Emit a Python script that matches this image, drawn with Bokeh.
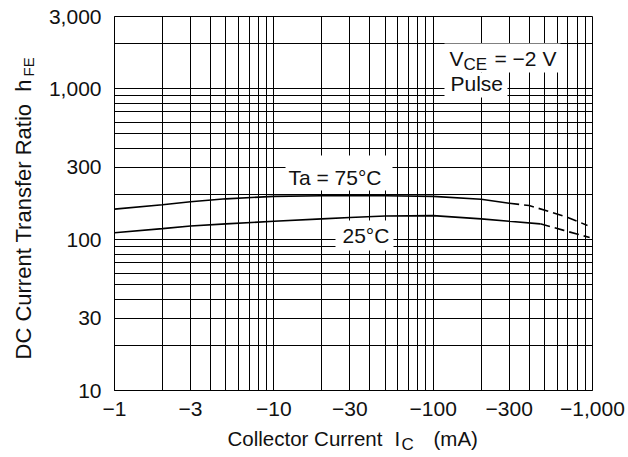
import math
from bokeh.plotting import figure
from bokeh.layouts import row, column
from bokeh.models import FixedTicker, Label, Range1d, BoxAnnotation
from bokeh.embed import file_html
from bokeh.resources import INLINE

FONT = "Liberation Sans"
INK = "#111111"
NB = "\u00a0"

# ---- data ----
x_ticks = [1, 3, 10, 30, 100, 300, 1000]
x_tick_labels = ["−1", "−3", "−10", "−30", "−100", "−300", "−1,000"]
y_ticks = [10, 30, 100, 300, 1000, 3000]
y_tick_labels = ["10", "30", "100", "300", "1,000", "3,000"]

grid_x = [1, 2, 3, 4, 5, 6, 7, 8, 9, 10, 20, 30, 40, 50, 60, 70, 80, 90,
          100, 200, 300, 400, 500, 600, 700, 800, 900, 1000]
grid_y = [10, 20, 30, 40, 50, 60, 70, 80, 90, 100, 200, 300, 400, 500, 600,
          700, 800, 900, 1000, 2000, 3000]

ic_75_solid = [1, 2, 3, 5, 10, 20, 50, 100, 200, 300]
hfe_75_solid = [159, 170, 178, 186, 193, 195, 195, 193, 185, 174]
ic_75_dash = [300, 400, 560, 700, 930]
hfe_75_dash = [174, 168, 151, 140, 124]

ic_25_solid = [1, 2, 3, 5, 10, 20, 30, 50, 100, 200, 300, 470]
hfe_25_solid = [111, 118, 123, 127, 132, 137, 140, 143, 144, 137, 132, 127]
ic_25_dash = [470, 660, 960]
hfe_25_dash = [127, 115, 103]

# ---- layout geometry (page px) ----
YW = 40            # width of the strip holding the y title
MAIN_W = 628 - YW  # main figure width
MAIN_H = 426       # main figure height
XH = 457 - MAIN_H  # height of the strip holding the x title
FL, FT, FR, FB = 114, 16, 592, 390   # plot frame in page coordinates


def sx(X):
    return X - FL


def sy(Y):
    return FB - Y


p = figure(width=MAIN_W, height=MAIN_H, x_axis_type="log", y_axis_type="log",
           x_range=Range1d(1, 1000), y_range=Range1d(10, 3000),
           output_backend="svg", toolbar_location=None,
           min_border_left=FL - YW, min_border_right=MAIN_W - (FR - YW),
           min_border_top=FT, min_border_bottom=MAIN_H - FB)

p.background_fill_color = "white"
p.border_fill_color = "white"
p.outline_line_color = "black"
p.outline_line_width = 1

p.xaxis.ticker = FixedTicker(ticks=x_ticks)
p.yaxis.ticker = FixedTicker(ticks=y_ticks)
p.xaxis.major_label_overrides = {t: l for t, l in zip(x_ticks, x_tick_labels)}
p.yaxis.major_label_overrides = {t: l for t, l in zip(y_ticks, y_tick_labels)}
for ax in (p.xaxis, p.yaxis):
    ax.major_tick_line_color = None
    ax.minor_tick_line_color = None
    ax.major_tick_out = 0
    ax.major_tick_in = 0
    ax.axis_line_color = "black"
    ax.major_label_text_font = FONT
    ax.major_label_text_font_size = "21px"
    ax.major_label_text_color = INK
p.xaxis.major_label_standoff = 11
p.yaxis.major_label_standoff = 13

p.xgrid.ticker = FixedTicker(ticks=grid_x)
p.ygrid.ticker = FixedTicker(ticks=grid_y)
for g in (p.xgrid, p.ygrid):
    g.grid_line_color = "black"
    g.grid_line_alpha = 1.0
    g.grid_line_width = 1

# ---- curves ----
p.line(ic_75_solid, hfe_75_solid, line_color="black", line_width=1.6)
p.line(ic_75_dash, hfe_75_dash, line_color="black", line_width=1.6, line_dash="10 5")
p.line(ic_25_solid, hfe_25_solid, line_color="black", line_width=1.6)
p.line(ic_25_dash, hfe_25_dash, line_color="black", line_width=1.6, line_dash="10 5")


# ---- white boxes behind the in-plot annotations ----
def white_box(x0, x1, y0, y1):
    p.add_layout(BoxAnnotation(left=sx(x0), right=sx(x1), top=sy(y0), bottom=sy(y1),
                               left_units="screen", right_units="screen",
                               top_units="screen", bottom_units="screen",
                               fill_color="white", fill_alpha=1.0, line_color=None))


white_box(285, 392, 155, 190)
white_box(335, 393, 220, 250)
white_box(444, 560, 43, 72)
white_box(444, 507, 72, 97)


def label(fig, text, x, y, size="21px", angle=0.0):
    fig.add_layout(Label(x=x, y=y, x_units="screen", y_units="screen",
                         text=text, text_font=FONT, text_font_size=size,
                         text_color=INK, text_align="left",
                         text_baseline="middle", angle=angle))


label(p, "Ta = 75°C", sx(288), sy(177))
label(p, "25°C", sx(342), sy(235))
label(p, "V", sx(449), sy(58))
label(p, "CE", sx(463), sy(64), size="17px")
label(p, "= −2 V", sx(494), sy(58))
label(p, "Pulse", sx(450), sy(83))


# ---- title strips (frame fills the whole canvas) ----
def strip(w, h):
    f = figure(width=w, height=h, x_range=Range1d(0, w), y_range=Range1d(0, h),
               output_backend="svg", toolbar_location=None,
               x_axis_location=None, y_axis_location=None,
               min_border_left=0, min_border_right=0,
               min_border_top=0, min_border_bottom=0)
    f.grid.visible = False
    f.outline_line_color = None
    f.background_fill_color = "white"
    f.border_fill_color = "white"
    return f


yfig = strip(YW, MAIN_H)
# y title, rotated (strip coords; y measured from the strip's bottom)
label(yfig, "DC Current Transfer Ratio" + NB + NB + "h", 23, MAIN_H - 395,
      size="22px", angle=math.pi / 2)
label(yfig, "FE", 28, MAIN_H - 112, size="15px", angle=math.pi / 2)

xfig = strip(628, XH)
# x title (strip coords; y measured from the strip's bottom)
label(xfig, "Collector Current", 227, 457 - 438, size="20.5px")
label(xfig, "I", 394, 457 - 438, size="20.5px")
label(xfig, "C", 401, 457 - 444, size="17px")
label(xfig, "(mA)", 433, 457 - 438, size="20.5px")

layout = column(row(yfig, p, spacing=0), xfig, spacing=0)

open("out.html", "w").write(file_html(layout, INLINE))
